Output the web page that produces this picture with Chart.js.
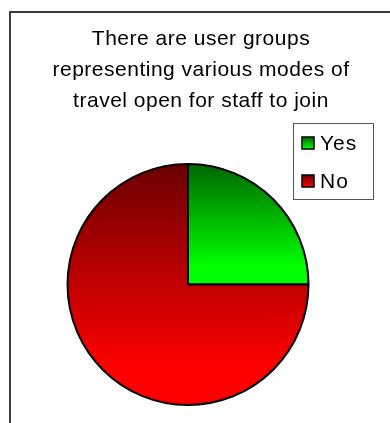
<!DOCTYPE html>
<html lang="en">
<head>
    <meta charset="UTF-8">
    <title>User groups</title>
    <script src="https://cdn.jsdelivr.net/npm/chart.js"></script>
    <style>
        body {
            margin: 0;
            background: #fff;
            font-family: "Liberation Sans", Arial, sans-serif;
        }
        .wrap {
            position: relative;
            width: 390px;
            height: 423px;
            overflow: hidden;
        }
        /* chart frame, runs off the right and bottom edges */
        .frame {
            position: absolute;
            left: 9px;
            top: 11px;
            width: 420px;
            height: 450px;
            border: 2px solid #3c3c3c;
        }
        canvas {
            position: absolute;
            left: 0;
            top: 0;
        }
    </style>
</head>
<body>
    <div class="wrap">
        <div class="frame"></div>
        <canvas id="groupsChart" width="390" height="423"></canvas>
    </div>

    <script>
        const titleLines = ['There are user groups', 'representing various modes of', 'travel open for staff to join'];
        const answers = ['Yes', 'No'];
        const shares = [25, 75];
        const darkColors = ['#006400', '#6a0000'];
        const brightColors = ['#00ff00', '#ff0000'];

        const FONT = '"Liberation Sans", Arial, sans-serif';

        // vertical gradient over the bounding box of each slice
        function sliceFill(context) {
            const chart = context.chart;
            const i = context.dataIndex;
            const area = chart.chartArea;
            if (!area) return brightColors[i];
            const cy = (area.top + area.bottom) / 2;
            const r = Math.min(area.right - area.left, area.bottom - area.top) / 2;
            const top = cy - r;
            const bottom = i === 0 ? cy : cy + r;
            const g = chart.ctx.createLinearGradient(0, top, 0, bottom);
            g.addColorStop(0, darkColors[i]);
            g.addColorStop(0.85, brightColors[i]);
            g.addColorStop(1, brightColors[i]);
            return g;
        }

        // three line heading, centred a little right of the pie
        const heading = {
            id: 'heading',
            afterDraw(chart) {
                const ctx = chart.ctx;
                ctx.save();
                ctx.font = '21px ' + FONT;
                ctx.letterSpacing = '0.5px';
                ctx.fillStyle = '#000';
                ctx.textAlign = 'center';
                ctx.textBaseline = 'alphabetic';
                titleLines.forEach((line, i) => ctx.fillText(line, 201, 45 + i * 31));
                ctx.restore();
            }
        };

        // boxed legend in the top right corner
        const boxLegend = {
            id: 'boxLegend',
            afterDraw(chart) {
                const ctx = chart.ctx;
                ctx.save();
                ctx.strokeStyle = '#555';
                ctx.lineWidth = 1;
                ctx.strokeRect(293.5, 123.5, 80, 76);
                ctx.font = '21px ' + FONT;
                ctx.letterSpacing = '1px';
                ctx.textBaseline = 'alphabetic';
                chart.data.labels.forEach((label, i) => {
                    const y = 143 + i * 38;
                    const g = ctx.createLinearGradient(0, y - 6, 0, y + 6);
                    g.addColorStop(0, darkColors[i]);
                    g.addColorStop(1, brightColors[i]);
                    ctx.fillStyle = g;
                    ctx.fillRect(302, y - 6, 12, 12);
                    ctx.strokeStyle = '#000';
                    ctx.lineWidth = 1.5;
                    ctx.strokeRect(302, y - 6, 12, 12);
                    ctx.fillStyle = '#000';
                    ctx.fillText(label, 320, y + 7);
                });
                ctx.restore();
            }
        };

        new Chart(document.getElementById('groupsChart'), {
            type: 'pie',
            data: {
                labels: answers,
                datasets: [{
                    data: shares,
                    backgroundColor: sliceFill,
                    borderColor: '#000',
                    borderWidth: 2
                }]
            },
            options: {
                responsive: false,
                animation: false,
                layout: {
                    padding: { left: 66, right: 80, top: 163, bottom: 17 }
                },
                plugins: {
                    legend: { display: false },
                    tooltip: { enabled: false },
                    title: { display: false }
                }
            },
            plugins: [heading, boxLegend]
        });
    </script>
</body>
</html>
